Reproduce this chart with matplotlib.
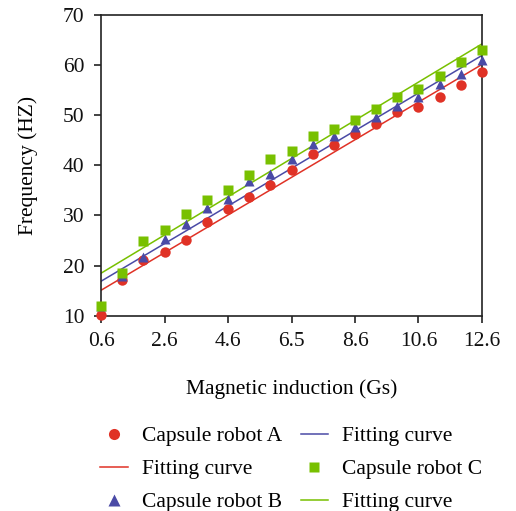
import matplotlib
matplotlib.use("Agg")
import matplotlib.pyplot as plt
import numpy as np
from matplotlib.lines import Line2D

plt.rcParams['font.family'] = ['Liberation Serif', 'DejaVu Serif']

idx = np.arange(19)
tick_pos = [0, 3, 6, 9, 12, 15, 18]
tick_labels = ['0.6', '2.6', '4.6', '6.5', '8.6', '10.6', '12.6']

robot_A = [10.2, 17.2, 21.2, 22.7, 25.2, 28.6, 31.2, 33.7, 36.1, 39.1,
           42.2, 44.1, 46.2, 48.2, 50.7, 51.7, 53.6, 56.1, 58.6]
robot_B = [11.9, 18.0, 21.7, 25.3, 28.3, 31.4, 33.3, 36.8, 38.3, 41.3,
           44.2, 45.9, 47.6, 49.7, 51.9, 53.7, 56.2, 58.2, 60.9]
robot_C = [11.9, 18.5, 24.9, 27.2, 30.2, 33.0, 35.1, 38.1, 41.3, 42.9,
           45.9, 47.2, 49.1, 51.2, 53.7, 55.3, 57.8, 60.6, 63.0]
fit_A = [15.1, 60.1]
fit_B = [16.9, 61.9]
fit_C = [18.5, 64.2]
fit_x = [0, 18]

red = '#e03226'
blue = '#4a4aa6'
green = '#78c000'
FS = 15.5

fig = plt.figure(figsize=(5.16, 5.11), dpi=100)
ax = fig.add_axes([0.196, 0.382, 0.738, 0.589])

ax.plot(fit_x, fit_A, color=red, lw=1.1, zorder=2)
ax.plot(fit_x, fit_B, color=blue, lw=1.1, zorder=2)
ax.plot(fit_x, fit_C, color=green, lw=1.1, zorder=2)
ax.plot(idx, robot_A, 'o', color=red, ms=7.5, mec='none', zorder=3, clip_on=False)
ax.plot(idx, robot_B, '^', color=blue, ms=7.5, mec='none', zorder=3, clip_on=False)
ax.plot(idx, robot_C, 's', color=green, ms=7, mec='none', zorder=3, clip_on=False)

ax.set_xlim(0, 18)
ax.set_ylim(10, 70)
ax.set_xticks(tick_pos)
ax.set_xticklabels(tick_labels)
ax.set_yticks(np.arange(10, 71, 10))
ax.tick_params(direction='out', length=5, width=1.2, labelsize=FS, pad=7, colors='#222222')
for s in ax.spines.values():
    s.set_linewidth(1.2)
    s.set_color('#222222')
for lab in ax.get_xticklabels() + ax.get_yticklabels():
    lab.set_color('#111111')

ax.set_xlabel('Magnetic induction (Gs)', fontsize=FS, labelpad=20)
ax.set_ylabel('Frequency (HZ)', fontsize=FS, labelpad=18)

handles = [
    Line2D([], [], ls='none', marker='o', color=red, ms=8, mec='none'),
    Line2D([], [], color=red, lw=1.1),
    Line2D([], [], ls='none', marker='^', color=blue, ms=8, mec='none'),
    Line2D([], [], color=blue, lw=1.1),
    Line2D([], [], ls='none', marker='s', color=green, ms=7.5, mec='none'),
    Line2D([], [], color=green, lw=1.1),
]
labels = ['Capsule robot A', 'Fitting curve', 'Capsule robot B',
          'Fitting curve', 'Capsule robot C', 'Fitting curve']
fig.legend(handles, labels, ncol=2, loc='upper left', bbox_to_anchor=(0.194, 0.166),
           frameon=False, fontsize=FS, handlelength=1.3, columnspacing=0.85,
           labelspacing=0.6, handletextpad=0.65, borderpad=0, borderaxespad=0)

fig.savefig('out.png', dpi=100)
